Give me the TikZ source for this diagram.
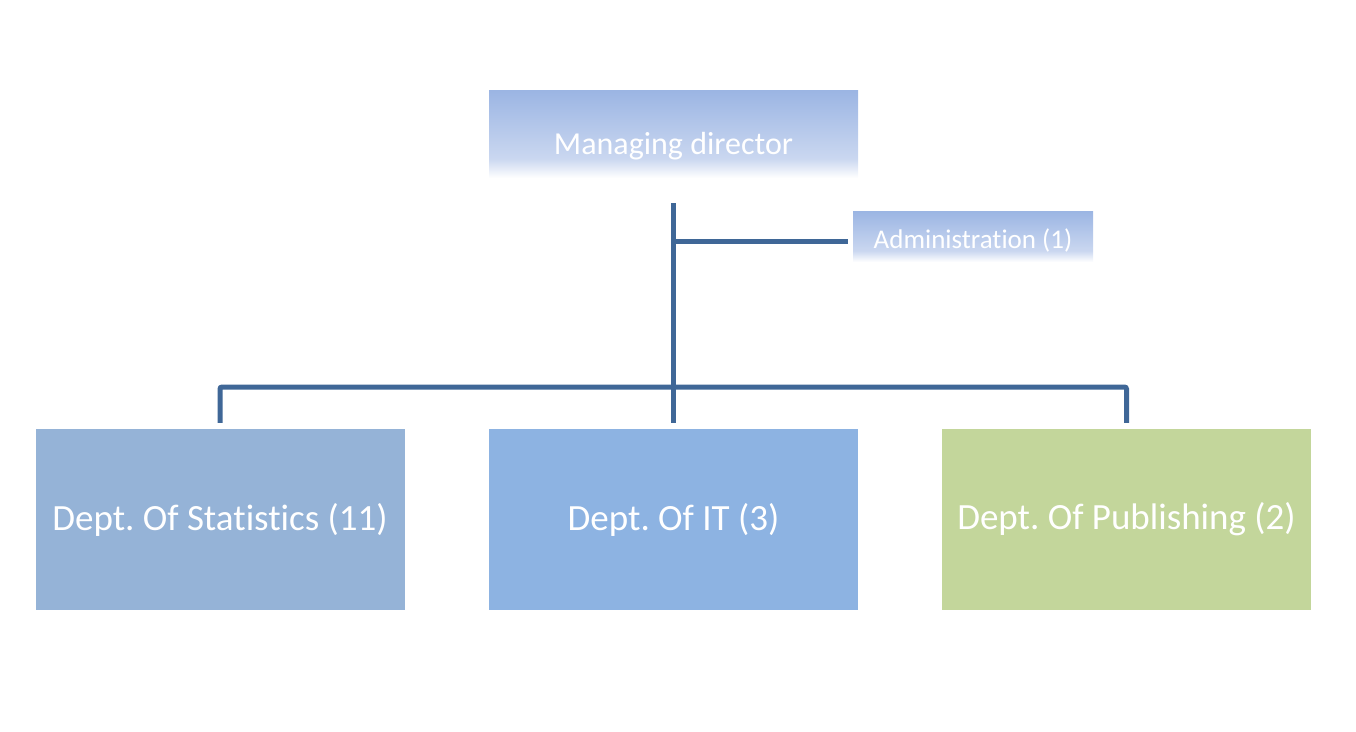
\documentclass[tikz,border=0pt]{standalone}
\usepackage{fontspec}
\setmainfont{Carlito}[Ligatures=NoCommon]
\frenchspacing
\definecolor{linkblue}{HTML}{3F6797}
\definecolor{statblue}{HTML}{95B3D7}
\definecolor{itblue}{HTML}{8DB3E2}
\definecolor{pubgreen}{HTML}{C3D69B}
\definecolor{headtop}{HTML}{9BB5E3}
\definecolor{headlow}{HTML}{CAD7F0}
\pgfdeclareverticalshading{headfade}{100bp}{color(0bp)=(white); color(25bp)=(white); color(36bp)=(headlow); color(75bp)=(headtop); color(100bp)=(headtop)}

\begin{document}
\begin{tikzpicture}[x=1pt,y=-1pt]
\tikzset{head/.style = {shading=headfade, text=white, inner sep=0pt}}
\tikzset{dept/.style = {fill=#1, text=white, minimum width=369pt, minimum height=181pt, inner sep=0pt, font=\fontsize{37}{44}\selectfont}}
\tikzset{link/.style = {draw=linkblue, line width=5pt}}
\useasboundingbox (0,0) rectangle (1356,731);
% boxes
\node[head, minimum width=369pt, minimum height=88pt, text height=48pt, text depth=8pt, font=\fontsize{32}{38}\selectfont] (md) at (673.5,134) {Managing director};
\node[head, minimum width=240pt, minimum height=51pt, text height=30pt, text depth=6pt, font=\fontsize{27}{32}\selectfont] (adm) at (973,236.5) {Administration (1)};
\node[dept=statblue] (stats) at (220,519.5) {Dept. Of Statistics (11)};
\node[dept=itblue] (it) at (673.5,519.5) {Dept. Of IT (3)};
\node[dept=pubgreen] (pub) at (1126.5,519.5) {Dept. Of Publishing (2)};
% lines
\coordinate (bar) at (673.5,387);
\coordinate (admjoin) at (673.5,241);
\draw[link, shorten <=25pt, shorten >=6pt] (md) -- (it);
\draw[link, shorten >=5pt] (admjoin) -- (admjoin -| adm.west);
\draw[link, rounded corners=2pt, shorten <=6pt, shorten >=6pt] (stats.north) |- (bar) -| (pub.north);
\end{tikzpicture}
\end{document}
